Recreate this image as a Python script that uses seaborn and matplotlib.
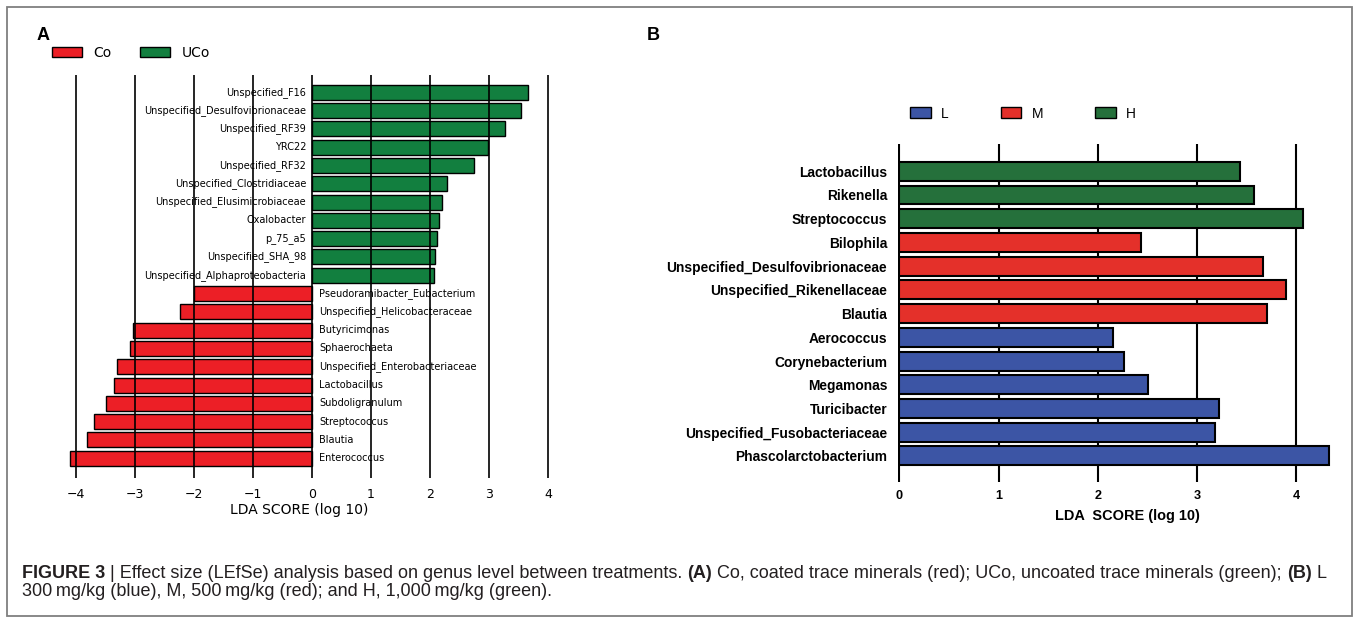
import matplotlib
matplotlib.use("Agg")
import matplotlib.pyplot as plt
import numpy as np
import pandas as pd
import seaborn as sns
from matplotlib.patches import Patch, Rectangle
from matplotlib import font_manager

# ---------------- data ----------------
# Panel A: coated (Co) vs uncoated (UCo) trace minerals
taxa_A = [
    "Unspecified_F16", "Unspecified_Desulfovibrionaceae", "Unspecified_RF39",
    "YRC22", "Unspecified_RF32", "Unspecified_Clostridiaceae",
    "Unspecified_Elusimicrobiaceae", "Oxalobacter", "p_75_a5",
    "Unspecified_SHA_98", "Unspecified_Alphaproteobacteria",
    "Pseudoramibacter_Eubacterium", "Unspecified_Helicobacteraceae",
    "Butyricimonas", "Sphaerochaeta", "Unspecified_Enterobacteriaceae",
    "Lactobacillus", "Subdoligranulum", "Streptococcus", "Blautia",
    "Enterococcus",
]
lda_A = [3.66, 3.55, 3.27, 2.99, 2.74, 2.29, 2.20, 2.16, 2.12, 2.09, 2.07,
         -2.00, -2.23, -3.04, -3.09, -3.30, -3.36, -3.49, -3.70, -3.82, -4.11]
group_A = ["UCo"] * 11 + ["Co"] * 10
groups_A_order = ["Co", "UCo"]
ticks_A = [-4, -3, -2, -1, 0, 1, 2, 3, 4]

# Panel B: low / medium / high dose
taxa_B = [
    "Lactobacillus", "Rikenella", "Streptococcus", "Bilophila",
    "Unspecified_Desulfovibrionaceae", "Unspecified_Rikenellaceae", "Blautia",
    "Aerococcus", "Corynebacterium", "Megamonas", "Turicibacter",
    "Unspecified_Fusobacteriaceae", "Phascolarctobacterium",
]
lda_B = [3.43, 3.58, 4.07, 2.44, 3.67, 3.90, 3.71,
         2.15, 2.27, 2.51, 3.22, 3.18, 4.33]
group_B = ["H"] * 3 + ["M"] * 4 + ["L"] * 6
groups_B_order = ["L", "M", "H"]
ticks_B = [0, 1, 2, 3, 4]

# ---------------- style ----------------
RED_A, GREEN_A = "#ec1f26", "#127f3f"
BLUE_B, RED_B, GREEN_B = "#3c55a5", "#e4302a", "#25703b"

sns.set_style("white")
plt.rcParams["font.family"] = ["DejaVu Sans"]
for key in ("text.color", "axes.labelcolor", "xtick.color", "ytick.color"):
    plt.rcParams[key] = "black"

installed = {f.name for f in font_manager.fontManager.ttflist}
NARROW = "Liberation Sans Narrow" if "Liberation Sans Narrow" in installed else "Liberation Sans"
CAP_FONT = ["Liberation Sans", "DejaVu Sans"]

W, H = 1356, 619
fig = plt.figure(figsize=(W / 100, H / 100), dpi=100)
renderer = fig.canvas.get_renderer()


def px_axes(x0, y0, x1, y1):
    return fig.add_axes([x0 / W, 1 - y1 / H, (x1 - x0) / W, (y1 - y0) / H])


def fit_size(text, target_px, family, weight="normal", base=10.0):
    t = fig.text(0, 0, text, fontsize=base, family=family, fontweight=weight)
    w = t.get_window_extent(renderer=renderer).width
    t.remove()
    return base * target_px / w


# ---------------- panel A ----------------
axA = px_axes(58.3, 74.5, 553.9, 478)
dfA = pd.DataFrame({"taxon": taxa_A, "lda": lda_A, "group": group_A})
sns.barplot(data=dfA, x="lda", y="taxon", hue="group", order=taxa_A,
            hue_order=groups_A_order, palette={"Co": RED_A, "UCo": GREEN_A},
            saturation=1, dodge=False, width=0.82, edgecolor="black",
            linewidth=1.0, errorbar=None, legend=False, orient="h", ax=axA)
axA.set_xlim(-4.3, 4.1)
axA.set_ylim(len(taxa_A) - 1 + 1.08, -0.97)
axA.set_xticks(ticks_A)
axA.set_yticks([])
axA.set_ylabel("")
for s in axA.spines.values():
    s.set_visible(False)
axA.set_axisbelow(False)
axA.grid(axis="x", color="black", linewidth=1.2)
axA.grid(axis="y", visible=False)
axA.tick_params(axis="x", length=0, pad=7, labelsize=9)
axA.set_xlabel("LDA SCORE (log 10)", fontsize=10)
axA.xaxis.set_label_coords((299 - 58.3) / 495.6, (478 - 510) / 403.5)
axA.xaxis.label.set_va("center")

for i, (name, val) in enumerate(zip(taxa_A, lda_A)):
    if val > 0:
        axA.text(-0.1, i, name, ha="right", va="center", fontsize=7)
    else:
        axA.text(0.12, i, name, ha="left", va="center", fontsize=7)

legA = [Patch(facecolor=RED_A, edgecolor="black", label="Co"),
        Patch(facecolor=GREEN_A, edgecolor="black", label="UCo")]
fig.legend(handles=legA, ncol=2, loc="center left",
           bbox_to_anchor=(52 / W, 1 - 53 / H), frameon=False, fontsize=10,
           handlelength=2.15, handleheight=0.72, handletextpad=0.8,
           columnspacing=2.1, borderpad=0, borderaxespad=0)

# ---------------- panel B ----------------
axB = px_axes(898.3, 144, 1337.8, 482)
dfB = pd.DataFrame({"taxon": taxa_B, "lda": lda_B, "group": group_B})
sns.barplot(data=dfB, x="lda", y="taxon", hue="group", order=taxa_B,
            hue_order=groups_B_order,
            palette={"L": BLUE_B, "M": RED_B, "H": GREEN_B},
            saturation=1, dodge=False, width=0.8, edgecolor="black",
            linewidth=1.5, errorbar=None, legend=False, orient="h", ax=axB)
axB.set_xlim(-0.01, 4.42)
axB.set_ylim(len(taxa_B) - 1 + 1.1, -1.15)
axB.set_xticks(ticks_B)
axB.set_ylabel("")
for s in axB.spines.values():
    s.set_visible(False)
axB.set_axisbelow(True)
axB.grid(axis="x", color="black", linewidth=1.5)
axB.grid(axis="y", visible=False)

lab_size = fit_size("Unspecified_Desulfovibrionaceae", 220, NARROW, "bold")
axB.tick_params(axis="y", length=0, pad=8)
axB.tick_params(axis="x", length=0, pad=6)
for t in axB.get_yticklabels():
    t.set_fontfamily(NARROW)
    t.set_fontweight("bold")
    t.set_fontsize(lab_size)
for t in axB.get_xticklabels():
    t.set_fontfamily(NARROW)
    t.set_fontweight("bold")
    t.set_fontsize(lab_size * 0.92)

xl_size = fit_size("LDA  SCORE (log 10)", 144, NARROW, "bold")
axB.set_xlabel("LDA  SCORE (log 10)", fontsize=xl_size, fontweight="bold",
               family=NARROW)
axB.xaxis.set_label_coords((1127 - 898.3) / 439.5, (482 - 516) / 338)
axB.xaxis.label.set_va("center")

legB = [Patch(facecolor=BLUE_B, edgecolor="black", label="L"),
        Patch(facecolor=RED_B, edgecolor="black", label="M"),
        Patch(facecolor=GREEN_B, edgecolor="black", label="H")]
fig.legend(handles=legB, ncol=3, loc="center left",
           bbox_to_anchor=(910 / W, 1 - 113.5 / H), frameon=False,
           prop={"family": NARROW, "size": lab_size},
           handlelength=1.5, handleheight=0.8, handletextpad=0.75,
           columnspacing=3.8, borderpad=0, borderaxespad=0)

# ---------------- panel letters ----------------
fig.text(37 / W, 1 - 35 / H, "A", fontsize=13, fontweight="bold",
         family="Liberation Sans", va="center", ha="left")
fig.text(647 / W, 1 - 36 / H, "B", fontsize=13, fontweight="bold",
         family="Liberation Sans", va="center", ha="left")

# ---------------- caption ----------------
line1 = [("FIGURE 3", "bold"),
         (" | Effect size (LEfSe) analysis based on genus level between treatments. ", "normal"),
         ("(A)", "bold"),
         (" Co, coated trace minerals (red); UCo, uncoated trace minerals (green); ", "normal"),
         ("(B)", "bold"),
         (" L", "normal")]
line2 = [("300\u2009mg/kg (blue), M, 500\u2009mg/kg (red); and H, 1,000\u2009mg/kg (green).", "normal")]


def draw_rich(parts, x_px, base_px, size):
    x = x_px
    for txt, wt in parts:
        t = fig.text(x / W, 1 - base_px / H, txt, fontsize=size, fontweight=wt,
                     family=CAP_FONT, va="baseline", ha="left", color="#231f20")
        x = t.get_window_extent(renderer=renderer).x1
    return x


probe = []
x = 0
for txt, wt in line1:
    t = fig.text(x / W, 0, txt, fontsize=10, fontweight=wt, family=CAP_FONT)
    x = t.get_window_extent(renderer=renderer).x1
    probe.append(t)
for t in probe:
    t.remove()
cap_size = 10 * (1328 - 22) / x

draw_rich(line1, 22, 577.5, cap_size)
draw_rich(line2, 22, 596, cap_size)

# ---------------- outer frame ----------------
fig.patches.append(Rectangle((7 / W, 1 - 616 / H), (1352 - 7) / W, (616 - 7) / H,
                             transform=fig.transFigure, fill=False,
                             edgecolor="#7f7f7f", linewidth=1.3))

fig.savefig("out.png", dpi=100)
